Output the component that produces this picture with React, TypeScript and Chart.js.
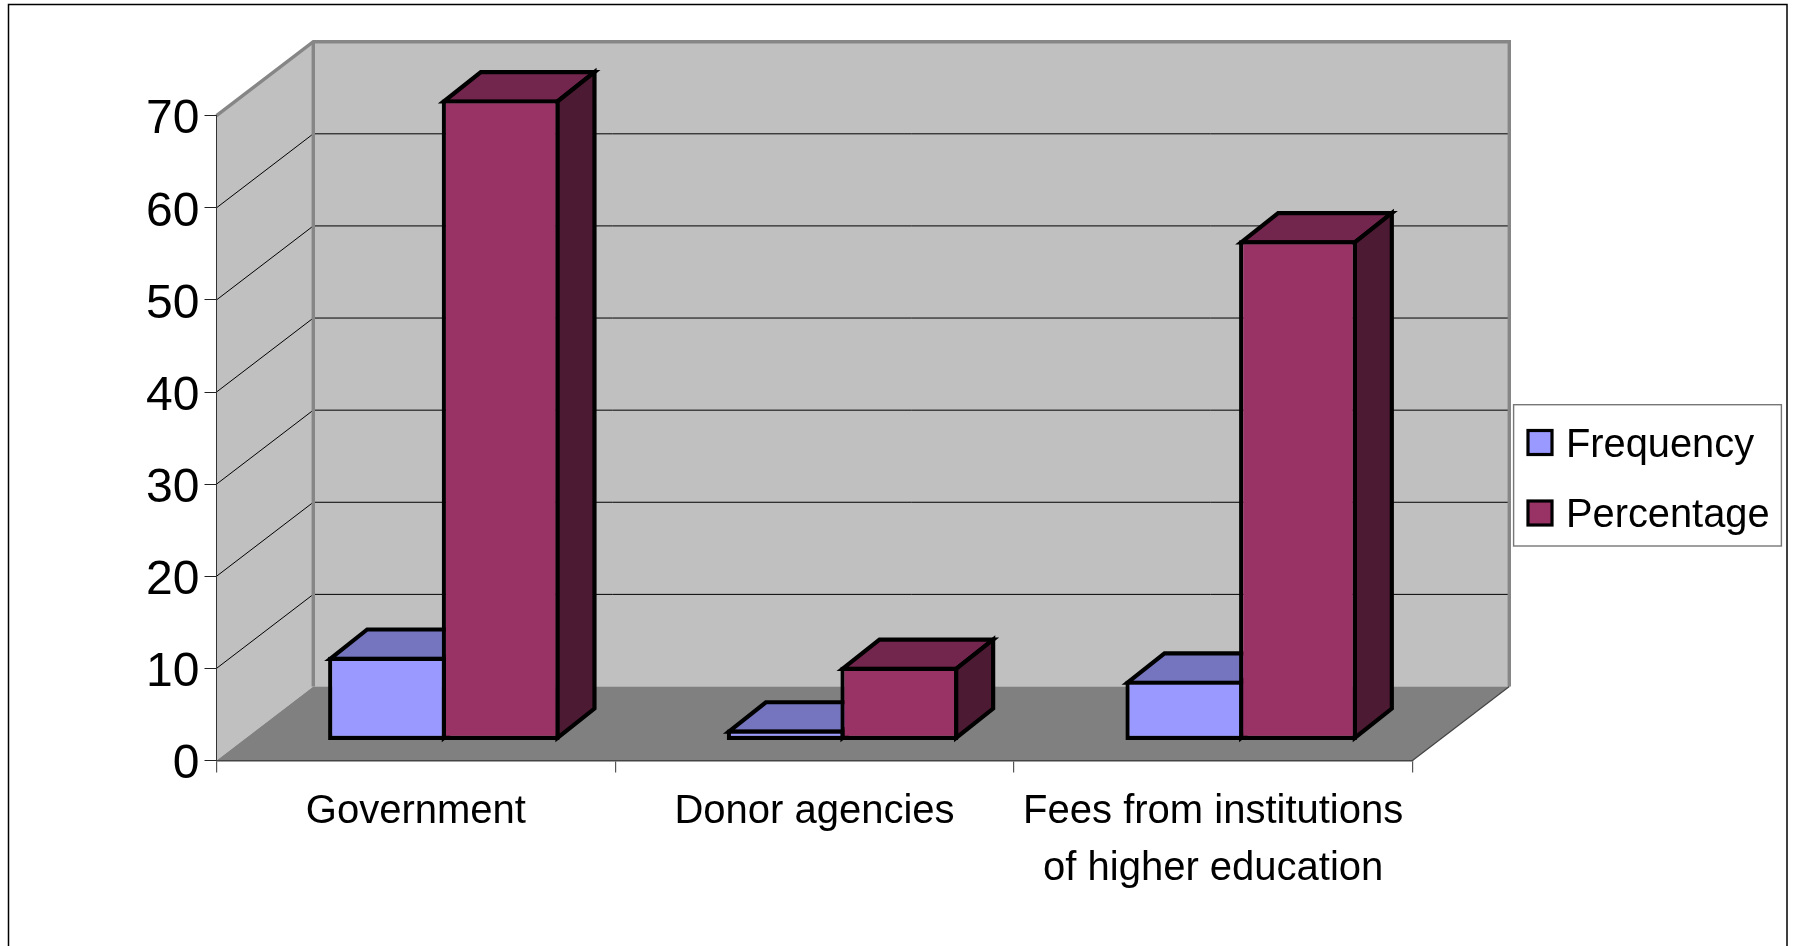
import React, { useEffect, useRef } from "react";
import { Chart, registerables } from "chart.js";

Chart.register(...registerables);

const categories = ["Government", "Donor agencies", ["Fees from institutions", "of higher education"]];
const frequency = [9.1, 1.2, 6.5];
const percentage = [69.6, 8, 54.3];
const tickStep = 10;
const axisMax = 70;

const FONT = '"Liberation Sans", Arial, sans-serif';
const W = 1793, H = 946;
const LEFT = 216.5, RIGHT = 1412.5, TOP = 115.7, BOTTOM = 760.5;
const WALL_DX = 96.8, WALL_DY = 74;
const BAR_DX = 28, BAR_DY = 20;
const EXT_DX = 37, EXT_DY = 29.3;
const STROKE = 4.2;

function poly(ctx: CanvasRenderingContext2D, pts: number[][], fill?: string, stroke?: string, lw = 1) {
  ctx.beginPath();
  pts.forEach((p, i) => (i ? ctx.lineTo(p[0], p[1]) : ctx.moveTo(p[0], p[1])));
  if (fill) { ctx.closePath(); ctx.fillStyle = fill; ctx.fill(); }
  if (stroke) { ctx.strokeStyle = stroke; ctx.lineWidth = lw; ctx.stroke(); }
}

const shade: Record<string, string[]> = {
  "#9999FF": ["#7575BF", "#4D4D80"],
  "#993366": ["#73264D", "#4D1A33"],
};

const scene = {
  id: "scene",
  beforeDraw(chart: any) {
    const ctx = chart.ctx as CanvasRenderingContext2D;
    const y = chart.scales.y;
    ctx.save();
    ctx.fillStyle = "#fff";
    ctx.fillRect(0, 0, W, H);
    ctx.strokeStyle = "#000";
    ctx.lineWidth = 1.5;
    ctx.strokeRect(8.5, 4.5, 1778.5, 1100);
    const backL = LEFT + WALL_DX, backR = RIGHT + WALL_DX;
    const backT = TOP - WALL_DY, backB = BOTTOM - WALL_DY;
    poly(ctx, [[LEFT, TOP], [backL, backT], [backL, backB], [LEFT, BOTTOM]], "#C0C0C0");
    poly(ctx, [[backL, backT], [backR, backT], [backR, backB], [backL, backB]], "#C0C0C0");
    poly(ctx, [[LEFT, BOTTOM], [RIGHT, BOTTOM], [backR, backB], [backL, backB]], "#808080");
    for (const t of y.ticks) {
      if (t.value === 0 || t.value === axisMax) continue;
      const py = y.getPixelForValue(t.value);
      poly(ctx, [[LEFT, py], [backL, py - WALL_DY], [backR, py - WALL_DY]], undefined, "#000", 1);
    }
    poly(ctx, [[LEFT, TOP], [backL, backT], [backR, backT], [backR, backB]], undefined, "#868686", 3.4);
    poly(ctx, [[backL, backT], [backL, backB]], undefined, "#868686", 3.4);
    poly(ctx, [[RIGHT, BOTTOM], [backR, backB]], undefined, "#444", 1.2);
    ctx.restore();
  },
  beforeDatasetsDraw(chart: any) {
    const ctx = chart.ctx as CanvasRenderingContext2D;
    ctx.save();
    ctx.translate(BAR_DX, -BAR_DY);
    const s = STROKE / 2;
    // extruded faces, left series first; the front faces are the library's own bars
    chart.data.datasets.forEach((ds: any, i: number) => {
      const [topC, sideC] = shade[ds.backgroundColor];
      for (const el of chart.getDatasetMeta(i).data) {
        const p = el.getProps(["x", "y", "base", "width"], true);
        const l = p.x - p.width / 2 + s, r = p.x + p.width / 2 - s;
        const t = p.y + s, b = p.base - s;
        ctx.lineJoin = "miter";
        poly(ctx, [[l, t], [l + EXT_DX, t - EXT_DY], [r + EXT_DX, t - EXT_DY], [r, t]], topC, "#000", STROKE);
        poly(ctx, [[r, t], [r + EXT_DX, t - EXT_DY], [r + EXT_DX, b - EXT_DY], [r, b]], sideC, "#000", STROKE);
      }
    });
  },
  afterDatasetsDraw(chart: any) {
    chart.ctx.restore();
  },
  afterDraw(chart: any) {
    const ctx = chart.ctx as CanvasRenderingContext2D;
    ctx.save();
    ctx.fillStyle = "#fff";
    ctx.fillRect(1513.6, 404.7, 267.8, 141.3);
    ctx.strokeStyle = "#777";
    ctx.lineWidth = 1.4;
    ctx.strokeRect(1513.6, 404.7, 267.8, 141.3);
    const ys = [442.5, 513];
    chart.data.datasets.forEach((ds: any, i: number) => {
      ctx.fillStyle = ds.backgroundColor;
      ctx.fillRect(1528, ys[i] - 12, 24, 24);
      ctx.strokeStyle = "#000";
      ctx.lineWidth = 3.2;
      ctx.strokeRect(1528, ys[i] - 12, 24, 24);
      ctx.fillStyle = "#000";
      ctx.font = `39.8px ${FONT}`;
      ctx.textAlign = "left";
      ctx.textBaseline = "alphabetic";
      ctx.fillText(ds.label, 1566, ys[i] + 14);
    });
    ctx.restore();
  },
};

export default function App() {
  const ref = useRef<HTMLCanvasElement>(null);
  useEffect(() => {
    const chart = new Chart(ref.current!, {
      type: "bar",
      plugins: [scene],
      data: {
        labels: categories as any,
        datasets: [
          { label: "Frequency", data: frequency, backgroundColor: "#9999FF" },
          { label: "Percentage", data: percentage, backgroundColor: "#993366" },
        ],
      },
      options: {
        responsive: false,
        animation: false,
        events: [],
        layout: { padding: { top: TOP, right: W - RIGHT, left: 0, bottom: 0 } },
        datasets: {
          bar: {
            categoryPercentage: 0.5701,
            barPercentage: 1.037,
            borderColor: "#000",
            borderWidth: STROKE,
            borderSkipped: false,
            inflateAmount: 0,
            clip: false,
          },
        },
        plugins: { legend: { display: false }, tooltip: { enabled: false }, title: { display: false } },
        scales: {
          x: {
            type: "category",
            afterFit: (s: any) => { s.height = H - BOTTOM; },
            grid: { drawOnChartArea: false, drawTicks: true, tickLength: 12, color: "#555", lineWidth: 1.2 },
            border: { color: "#444", width: 1.5 },
            ticks: {
              color: "#000",
              padding: 11,
              maxRotation: 0,
              minRotation: 0,
              autoSkip: false,
              font: { family: FONT, size: 40, lineHeight: 1.43 },
            },
          },
          y: {
            type: "linear",
            min: 0,
            max: axisMax,
            afterFit: (s: any) => { s.width = LEFT; },
            grid: { drawOnChartArea: false, drawTicks: true, tickLength: 12, color: "#222", lineWidth: 1 },
            border: { color: "#333", width: 1 },
            ticks: {
              stepSize: tickStep,
              color: "#000",
              padding: 5,
              labelOffset: 4.5,
              font: { family: FONT, size: 48 },
            },
          },
        },
      },
    } as any);
    return () => chart.destroy();
  }, []);
  return (
    <div style={{ position: "fixed", left: 0, top: 0, width: W, height: H, background: "#fff" }}>
      <canvas ref={ref} width={W} height={H} style={{ display: "block" }} />
    </div>
  );
}
